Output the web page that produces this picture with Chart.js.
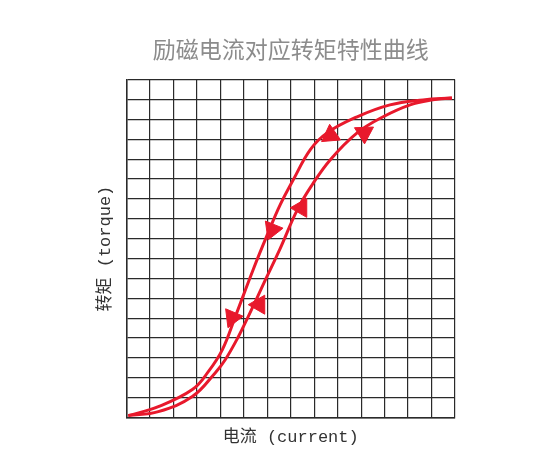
<!DOCTYPE html>
<html>
<head>
<meta charset="utf-8">
<script src="https://cdn.jsdelivr.net/npm/chart.js@4/dist/chart.umd.min.js"></script>
<style>
  html, body { margin: 0; padding: 0; background: #fff; }
  #wrap { width: 543px; height: 469px; }
</style>
</head>
<body>
<div id="wrap"><canvas id="c"></canvas></div>
<script>
// curve data, in grid units (14 columns x 17 rows)
const riseX = [0.08, 1.36, 2.81, 3.79, 4.21, 4.77, 5.19, 5.91, 6.55, 7.28, 7.91, 8.68, 9.83, 10.94, 12.09, 13.06, 13.87];
const riseY = [0.1, 0.3, 1.06, 2.26, 2.91, 4.07, 5.08, 6.9, 8.5, 10.45, 11.7, 12.96, 14.32, 15.13, 15.73, 15.98, 16.08];
const fallX = [0.08, 1.36, 2.81, 3.49, 4.09, 4.64, 5.4, 6.04, 6.55, 7.11, 7.83, 8.55, 9.83, 11.23, 12.64, 13.87];
const fallY = [0.1, 0.55, 1.41, 2.31, 3.42, 5.08, 7.44, 9.3, 10.7, 11.96, 13.47, 14.32, 15.13, 15.73, 15.98, 16.08];

// arrow heads: position and direction (degrees, clockwise from up)
const arrowX = [5.66, 7.45, 10.13, 4.51, 6.21, 8.7];
const arrowY = [5.68, 10.55, 14.32, 5.03, 9.45, 14.2];
const arrowDir = [30, 30, 58, 203, 202, 235];

const xCols = 14;
const yRows = 17;

const red = '#e8192c';
const axisFont = { family: "'Liberation Mono', 'Noto Sans CJK SC', monospace", size: 17 };
const toPts = (xs, ys) => xs.map((x, i) => ({ x, y: ys[i] }));

new Chart(document.getElementById('c'), {
    type: 'scatter',
    data: {
        datasets: [
            {
                data: toPts(fallX, fallY),
                showLine: true,
                borderColor: red,
                borderWidth: 3,
                pointRadius: 0,
                tension: 0.4,
            },
            {
                data: toPts(riseX, riseY),
                showLine: true,
                borderColor: red,
                borderWidth: 3,
                pointRadius: 0,
                tension: 0.4,
            },
            {
                data: toPts(arrowX, arrowY),
                showLine: false,
                pointStyle: 'triangle',
                pointRadius: 11,
                rotation: arrowDir,
                backgroundColor: red,
                borderColor: red,
                borderWidth: 1,
            },
        ],
    },
    options: {
        responsive: true,
        maintainAspectRatio: false,
        animation: false,
        events: [],
        layout: { padding: { left: 84, right: 88, top: 0, bottom: 11 } },
        plugins: {
            legend: { display: false },
            tooltip: { enabled: false },
            title: {
                display: true,
                fullSize: false,
                text: '励磁电流对应转矩特性曲线',
                color: '#8c8c8c',
                font: { family: "'Noto Sans CJK SC', sans-serif", size: 23, weight: 'normal' },
                padding: { top: 35, bottom: 17 },
            },
        },
        scales: {
            x: {
                type: 'linear',
                min: 0,
                max: xCols,
                ticks: { display: false, stepSize: 1 },
                grid: { color: '#2a2a2a', lineWidth: 1.2, drawTicks: false },
                border: { color: '#2a2a2a', width: 1.5 },
                title: {
                    display: true,
                    text: '电流 (current)',
                    color: '#333',
                    font: axisFont,
                    padding: { top: 10, bottom: 10 },
                },
            },
            y: {
                type: 'linear',
                min: 0,
                max: yRows,
                ticks: { display: false, stepSize: 1 },
                grid: { color: '#2a2a2a', lineWidth: 1.2, drawTicks: false },
                border: { color: '#2a2a2a', width: 1.5 },
                title: {
                    display: true,
                    text: '转矩 (torque)',
                    color: '#333',
                    font: axisFont,
                    padding: { top: 11, bottom: 11 },
                },
            },
        },
    },
});
</script>
</body>
</html>
